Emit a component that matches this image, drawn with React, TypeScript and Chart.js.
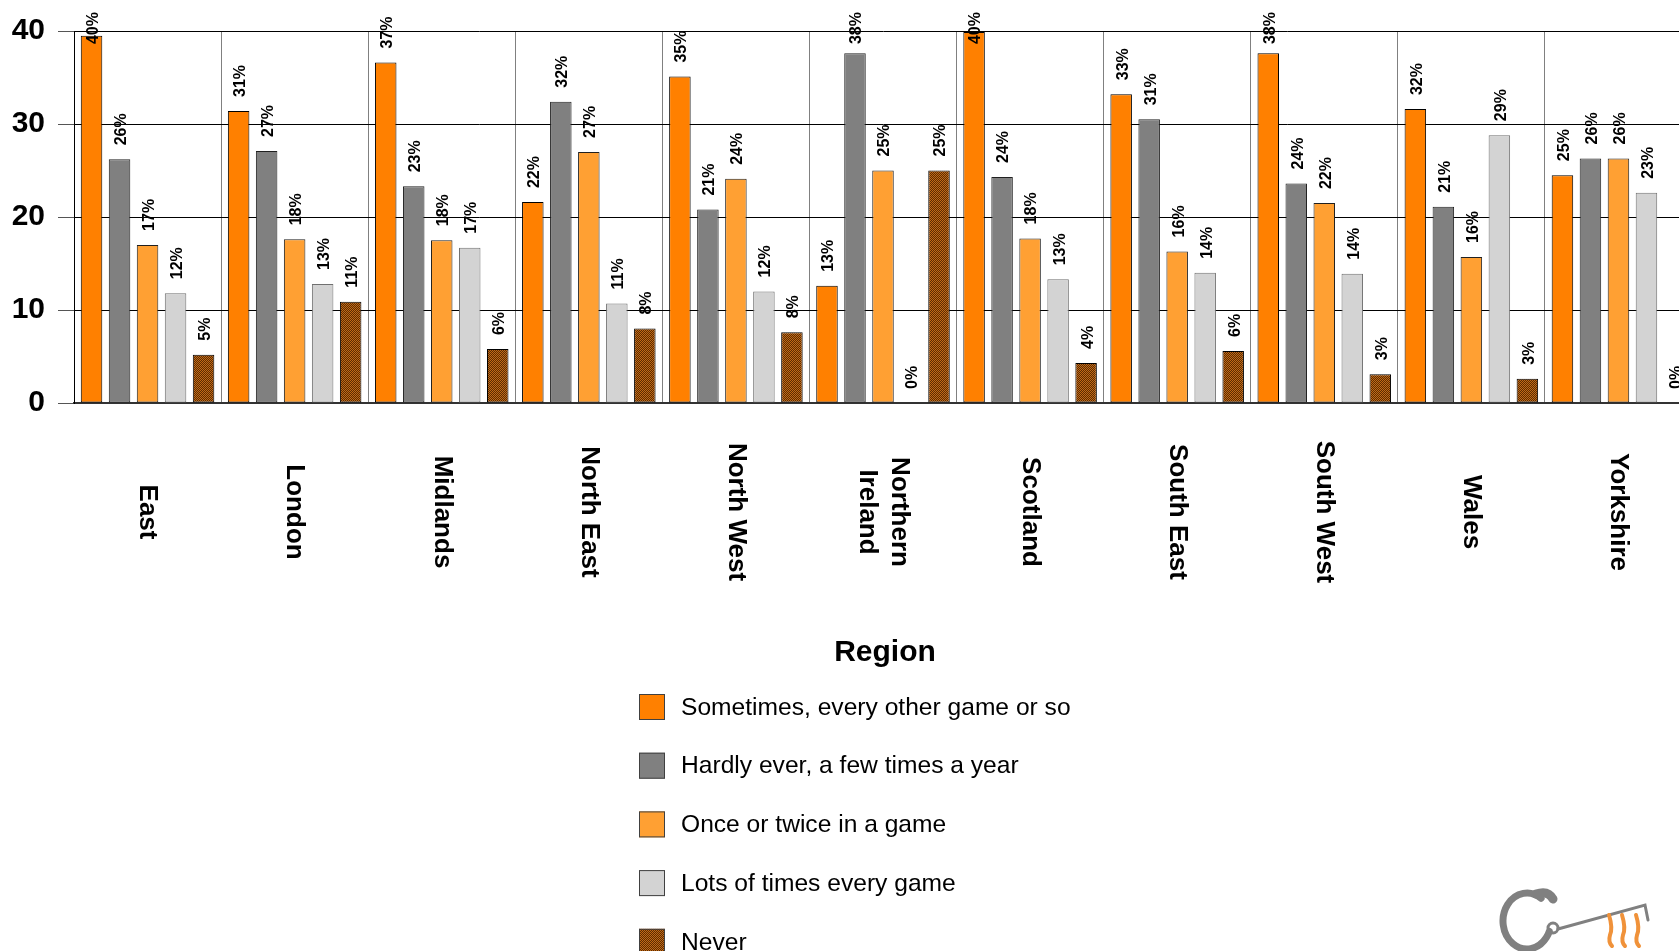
import React, { useEffect, useRef } from 'react';
import { Chart, registerables } from 'chart.js';

Chart.register(...registerables);

// ---------- data ----------
const categories: (string | string[])[] = [
  'East', 'London', 'Midlands', 'North East', 'North West', ['Northern', 'Ireland'],
  'Scotland', 'South East', 'South West', 'Wales', 'Yorkshire',
];
const seriesNames = [
  'Sometimes, every other game or so',
  'Hardly ever, a few times a year',
  'Once or twice in a game',
  'Lots of times every game',
  'Never',
];
const sometimes = [39.5, 31.4, 36.6, 21.6, 35.1, 12.6, 39.9, 33.2, 37.6, 31.6, 24.5];
const hardlyEver = [26.2, 27.1, 23.3, 32.4, 20.8, 37.6, 24.3, 30.5, 23.6, 21.1, 26.3];
const onceOrTwice = [17.0, 17.6, 17.5, 27.0, 24.1, 25.0, 17.7, 16.3, 21.5, 15.7, 26.3];
const lotsOfTimes = [11.8, 12.8, 16.7, 10.7, 12.0, 0, 13.3, 14.0, 13.9, 28.8, 22.6];
const never = [5.2, 10.9, 5.8, 8.0, 7.6, 25.0, 4.3, 5.6, 3.1, 2.6, 0];
const yMin = 0;
const yMax = 40;
const yStep = 10;
const legendTitle = 'Region';

const FONT = '"Liberation Sans", Arial, sans-serif';

function makeBrownPattern(): CanvasPattern | string {
  const c = document.createElement('canvas');
  c.width = 2;
  c.height = 2;
  const g = c.getContext('2d');
  if (!g) return '#8a4a10';
  g.fillStyle = '#5e2c00';
  g.fillRect(0, 0, 2, 2);
  g.fillStyle = '#c06a18';
  g.fillRect(0, 0, 1, 1);
  g.fillRect(1, 1, 1, 1);
  const p = g.createPattern(c, 'repeat');
  return p || '#8a4a10';
}

const dataLabelPlugin = {
  id: 'dataLabelPlugin',
  afterDatasetsDraw(chart: any) {
    const ctx = chart.ctx as CanvasRenderingContext2D;
    ctx.save();
    ctx.font = `bold 16px ${FONT}`;
    ctx.fillStyle = '#000';
    ctx.textAlign = 'left';
    ctx.textBaseline = 'middle';
    chart.data.datasets.forEach((ds: any, di: number) => {
      const meta = chart.getDatasetMeta(di);
      meta.data.forEach((el: any, i: number) => {
        const v = ds.data[i];
        const txt = `${Math.round(v)}%`;
        const w = ctx.measureText(txt).width;
        const bottom = Math.max(el.y - 14, 12 + w);
        ctx.save();
        ctx.translate(el.x + 2, bottom);
        ctx.rotate(-Math.PI / 2);
        ctx.fillText(txt, 0, 0);
        ctx.restore();
      });
    });
    ctx.restore();
  },
};

const xLabelPlugin = {
  id: 'xLabelPlugin',
  afterDraw(chart: any) {
    const ctx = chart.ctx as CanvasRenderingContext2D;
    const xs = chart.scales.x;
    ctx.save();
    ctx.font = `bold 26px ${FONT}`;
    ctx.fillStyle = '#000';
    ctx.textAlign = 'center';
    ctx.textBaseline = 'middle';
    const lh = 32;
    (chart.data.labels as (string | string[])[]).forEach((lab, i) => {
      const x = xs.getPixelForValue(i);
      const lines = Array.isArray(lab) ? lab : [lab];
      ctx.save();
      ctx.translate(x, 512);
      ctx.rotate(Math.PI / 2);
      lines.forEach((ln, k) => {
        ctx.fillText(ln, 0, (k - (lines.length - 1) / 2) * lh);
      });
      ctx.restore();
    });
    ctx.restore();
  },
};

const legendPlugin = {
  id: 'customLegend',
  afterDraw(chart: any) {
    const ctx = chart.ctx as CanvasRenderingContext2D;
    ctx.save();
    ctx.fillStyle = '#000';
    ctx.font = `bold 30px ${FONT}`;
    ctx.textAlign = 'center';
    ctx.textBaseline = 'alphabetic';
    ctx.fillText(legendTitle, 885, 661);
    ctx.font = `24.6px ${FONT}`;
    ctx.textAlign = 'left';
    ctx.textBaseline = 'middle';
    chart.data.datasets.forEach((ds: any, i: number) => {
      const yc = 707 + i * 58.7;
      ctx.fillStyle = ds.backgroundColor;
      ctx.fillRect(639, yc - 13, 26, 26);
      ctx.strokeStyle = '#404040';
      ctx.lineWidth = 1;
      ctx.strokeRect(639.5, yc - 12.5, 25, 25);
      ctx.fillStyle = '#000';
      ctx.fillText(ds.label, 681, yc + 1);
    });
    ctx.restore();
  },
};

const logoPlugin = {
  id: 'logoPlugin',
  afterDraw(chart: any) {
    const ctx = chart.ctx as CanvasRenderingContext2D;
    ctx.save();
    ctx.lineCap = 'round';
    ctx.strokeStyle = '#808080';
    ctx.lineWidth = 7;
    ctx.beginPath();
    ctx.ellipse(1527, 921, 24, 28, 0, -Math.PI * 0.3, Math.PI * 0.12, true);
    ctx.stroke();
    ctx.lineWidth = 9;
    ctx.beginPath();
    ctx.moveTo(1536, 894);
    ctx.quadraticCurveTo(1548, 890, 1553, 899);
    ctx.stroke();
    ctx.lineWidth = 3;
    ctx.beginPath();
    ctx.arc(1553, 928, 5, 0, Math.PI * 2);
    ctx.stroke();
    ctx.beginPath();
    ctx.moveTo(1558, 929);
    ctx.lineTo(1645, 905);
    ctx.lineTo(1648, 920);
    ctx.stroke();
    ctx.strokeStyle = '#f0923a';
    ctx.lineWidth = 4;
    [1609, 1622, 1636].forEach((x) => {
      ctx.beginPath();
      ctx.moveTo(x, 915);
      ctx.quadraticCurveTo(x + 4, 928, x + 1, 935);
      ctx.quadraticCurveTo(x - 1, 942, x + 3, 946);
      ctx.stroke();
    });
    ctx.restore();
  },
};

export default function App() {
  const ref = useRef<HTMLCanvasElement | null>(null);

  useEffect(() => {
    if (!ref.current) return;
    const brown = makeBrownPattern();
    const colors: any[] = ['#FF8000', '#808080', '#FFA033', '#D3D3D3', brown];
    const borders = ['#000', '#202020', '#202020', '#707070', '#000'];
    const series = [sometimes, hardlyEver, onceOrTwice, lotsOfTimes, never];
    const chart = new Chart(ref.current, {
      type: 'bar',
      data: {
        labels: categories as any,
        datasets: series.map((d, i) => ({
          label: seriesNames[i],
          data: d,
          backgroundColor: colors[i],
          borderColor: borders[i],
          borderWidth: 1,
          borderSkipped: false,
          categoryPercentage: 0.952,
          barPercentage: 0.768,
        })),
      },
      options: {
        responsive: false,
        animation: false,
        devicePixelRatio: 1,
        layout: { padding: { top: 30, right: 8, bottom: 538, left: 0 } },
        plugins: {
          legend: { display: false },
          tooltip: { enabled: false },
          title: { display: false },
        },
        scales: {
          x: {
            grid: { offset: true, color: '#808080', lineWidth: 1, drawTicks: false },
            border: { color: '#333', width: 2 },
            ticks: { display: false },
            afterFit: (s: any) => {
              s.height = 10;
            },
          },
          y: {
            min: yMin,
            max: yMax,
            ticks: {
              stepSize: yStep,
              font: { family: FONT, size: 30, weight: 'bold' },
              color: '#000',
              padding: 13,
            },
            grid: { color: '#000', lineWidth: 1, tickLength: 16, tickColor: '#555' },
            border: { color: '#000', width: 1 },
            afterFit: (s: any) => {
              s.width = 74;
            },
          },
        },
      } as any,
      plugins: [dataLabelPlugin, xLabelPlugin, legendPlugin, logoPlugin],
    });
    return () => chart.destroy();
  }, []);

  return (
    <div
      style={{
        position: 'fixed',
        left: 0,
        top: 0,
        width: '100vw',
        height: '100vh',
        overflow: 'hidden',
        background: '#fff',
      }}
    >
      <canvas ref={ref} width={1700} height={951} style={{ display: 'block' }} />
    </div>
  );
}
